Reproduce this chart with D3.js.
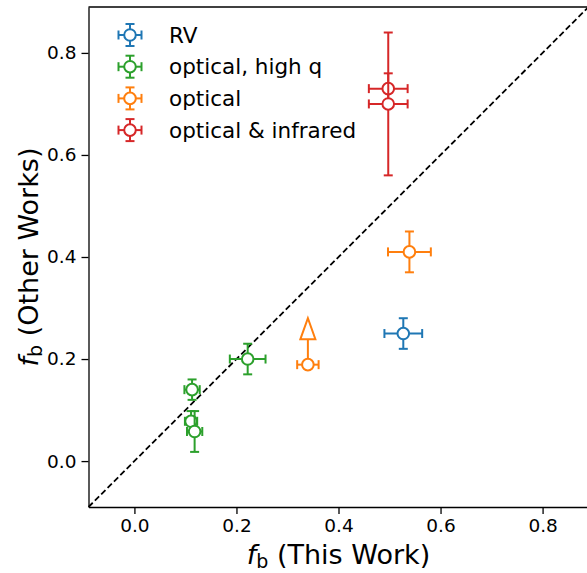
<!DOCTYPE html>
<meta charset="utf-8">
<style>
body { margin: 0; background: #fff; }
text { font-family: "DejaVu Sans", sans-serif; fill: #000; }
.axis path, .axis line { stroke: #000; }
</style>
<svg class="chart" width="587" height="573"></svg>
<script src="https://d3js.org/d3.v7.min.js"></script>
<script>

// legend categories and their colours
var categories = ["RV", "optical, high q", "optical", "optical & infrared"];
var colors = ["#1f77b4", "#2ca02c", "#ff7f0e", "#d62728"];

// one entry per point
var group    = [0, 1, 1, 1, 1, 2, 2, 3, 3];
var fbThis   = [0.527, 0.222, 0.113, 0.111, 0.118, 0.539, 0.340, 0.4975, 0.4975];
var fbOther  = [0.250, 0.200, 0.140, 0.078, 0.058, 0.410, 0.189, 0.730, 0.700];
var xErr     = [0.037, 0.035, 0.015, 0.012, 0.015, 0.042, 0.021, 0.038, 0.038];
var yErr     = [0.030, 0.030, 0.020, 0.020, 0.040, 0.040, 0.050, 0.030, 0.140];
var lowerLim = [false, false, false, false, false, false, true, false, false];

var xTicks = [0.0, 0.2, 0.4, 0.6, 0.8];
var yTicks = [0.0, 0.2, 0.4, 0.6, 0.8];

var svg = d3.select(".chart"),
    margin = {left: 88.5, top: 7},
    size = 500;

var x = d3.scaleLinear().domain([-0.09, 0.89]).range([margin.left, margin.left + size]);
var y = d3.scaleLinear().domain([-0.09, 0.89]).range([margin.top + size, margin.top]);

// one-to-one line
svg.append("line")
    .attr("x1", x(-0.09)).attr("y1", y(-0.09))
    .attr("x2", x(0.89)).attr("y2", y(0.89))
    .attr("stroke", "#000")
    .attr("stroke-width", 1.8)
    .attr("stroke-dasharray", "6,3");

var pts = fbThis.map(function(d, i) {
  return {x: d, y: fbOther[i], xe: xErr[i], ye: yErr[i], g: group[i], lim: lowerLim[i]};
});

var cap = 4.5, lw = 2;

pts.forEach(function(p) {
  var c = colors[p.g];
  var g = svg.append("g").attr("stroke", c).attr("stroke-width", lw).attr("fill", "none");
  var cx = x(p.x), cy = y(p.y);
  // x error bar
  g.append("line").attr("x1", x(p.x - p.xe)).attr("x2", x(p.x + p.xe)).attr("y1", cy).attr("y2", cy);
  g.append("line").attr("x1", x(p.x - p.xe)).attr("x2", x(p.x - p.xe)).attr("y1", cy - cap).attr("y2", cy + cap);
  g.append("line").attr("x1", x(p.x + p.xe)).attr("x2", x(p.x + p.xe)).attr("y1", cy - cap).attr("y2", cy + cap);
  if (p.lim) {
    var top = y(p.y + p.ye);
    g.append("line").attr("x1", cx).attr("x2", cx).attr("y1", cy).attr("y2", top);
    g.append("path")
        .attr("d", "M" + (cx - 7.5) + "," + top + "L" + cx + "," + (top - 21) + "L" + (cx + 7.5) + "," + top + "Z")
        .attr("fill", "#fff");
  } else {
    g.append("line").attr("x1", cx).attr("x2", cx).attr("y1", y(p.y - p.ye)).attr("y2", y(p.y + p.ye));
    g.append("line").attr("x1", cx - cap).attr("x2", cx + cap).attr("y1", y(p.y - p.ye)).attr("y2", y(p.y - p.ye));
    g.append("line").attr("x1", cx - cap).attr("x2", cx + cap).attr("y1", y(p.y + p.ye)).attr("y2", y(p.y + p.ye));
  }
  g.append("circle").attr("cx", cx).attr("cy", cy).attr("r", 5.8).attr("fill", "#fff");
});

// axes
svg.append("g")
    .attr("class", "axis")
    .attr("transform", "translate(0," + (margin.top + size) + ")")
    .call(d3.axisBottom(x).tickValues(xTicks).tickFormat(d3.format(".1f")).tickSize(7).tickPadding(5).tickSizeOuter(0));
svg.append("g")
    .attr("class", "axis")
    .attr("transform", "translate(" + margin.left + ",0)")
    .call(d3.axisLeft(y).tickValues(yTicks).tickFormat(d3.format(".1f")).tickSize(7).tickPadding(5).tickSizeOuter(0));
svg.selectAll(".axis text").style("font-size", "18.5px").style("font-family", "DejaVu Sans");
svg.selectAll(".axis path, .axis line").attr("stroke-width", 1.3);

// top and right spines
svg.append("line").attr("x1", margin.left).attr("x2", margin.left + size)
    .attr("y1", margin.top).attr("y2", margin.top).attr("stroke", "#000").attr("stroke-width", 1.3);
svg.append("line").attr("x1", margin.left + size).attr("x2", margin.left + size)
    .attr("y1", margin.top).attr("y2", margin.top + size).attr("stroke", "#000").attr("stroke-width", 1.3);

// axis labels
var xl = svg.append("text")
    .attr("x", margin.left + size / 2).attr("y", 564)
    .attr("text-anchor", "middle").style("font-size", "27px");
xl.append("tspan").style("font-style", "italic").text("f");
xl.append("tspan").attr("dy", 4).style("font-size", "19px").text("b");
xl.append("tspan").attr("dy", -4).text(" (This Work)");

var yl = svg.append("text")
    .attr("transform", "translate(38," + (margin.top + size / 2) + ") rotate(-90)")
    .attr("text-anchor", "middle").style("font-size", "27px");
yl.append("tspan").style("font-style", "italic").text("f");
yl.append("tspan").attr("dy", 4).style("font-size", "19px").text("b");
yl.append("tspan").attr("dy", -4).text(" (Other Works)");

// legend
var leg = svg.append("g");
categories.forEach(function(name, i) {
  var ly = 35 + i * 31.7, lx = 130, c = colors[i];
  var g = leg.append("g").attr("stroke", c).attr("stroke-width", lw).attr("fill", "none");
  g.append("line").attr("x1", lx - 11.5).attr("x2", lx + 11.5).attr("y1", ly).attr("y2", ly);
  g.append("line").attr("x1", lx - 11.5).attr("x2", lx - 11.5).attr("y1", ly - cap).attr("y2", ly + cap);
  g.append("line").attr("x1", lx + 11.5).attr("x2", lx + 11.5).attr("y1", ly - cap).attr("y2", ly + cap);
  g.append("line").attr("x1", lx).attr("x2", lx).attr("y1", ly - 11).attr("y2", ly + 11);
  g.append("line").attr("x1", lx - cap).attr("x2", lx + cap).attr("y1", ly - 11).attr("y2", ly - 11);
  g.append("line").attr("x1", lx - cap).attr("x2", lx + cap).attr("y1", ly + 11).attr("y2", ly + 11);
  g.append("circle").attr("cx", lx).attr("cy", ly).attr("r", 5.8).attr("fill", "#fff");
  leg.append("text").attr("x", 169).attr("y", ly + 7.5).style("font-size", "21.5px").text(name);
});

</script>
